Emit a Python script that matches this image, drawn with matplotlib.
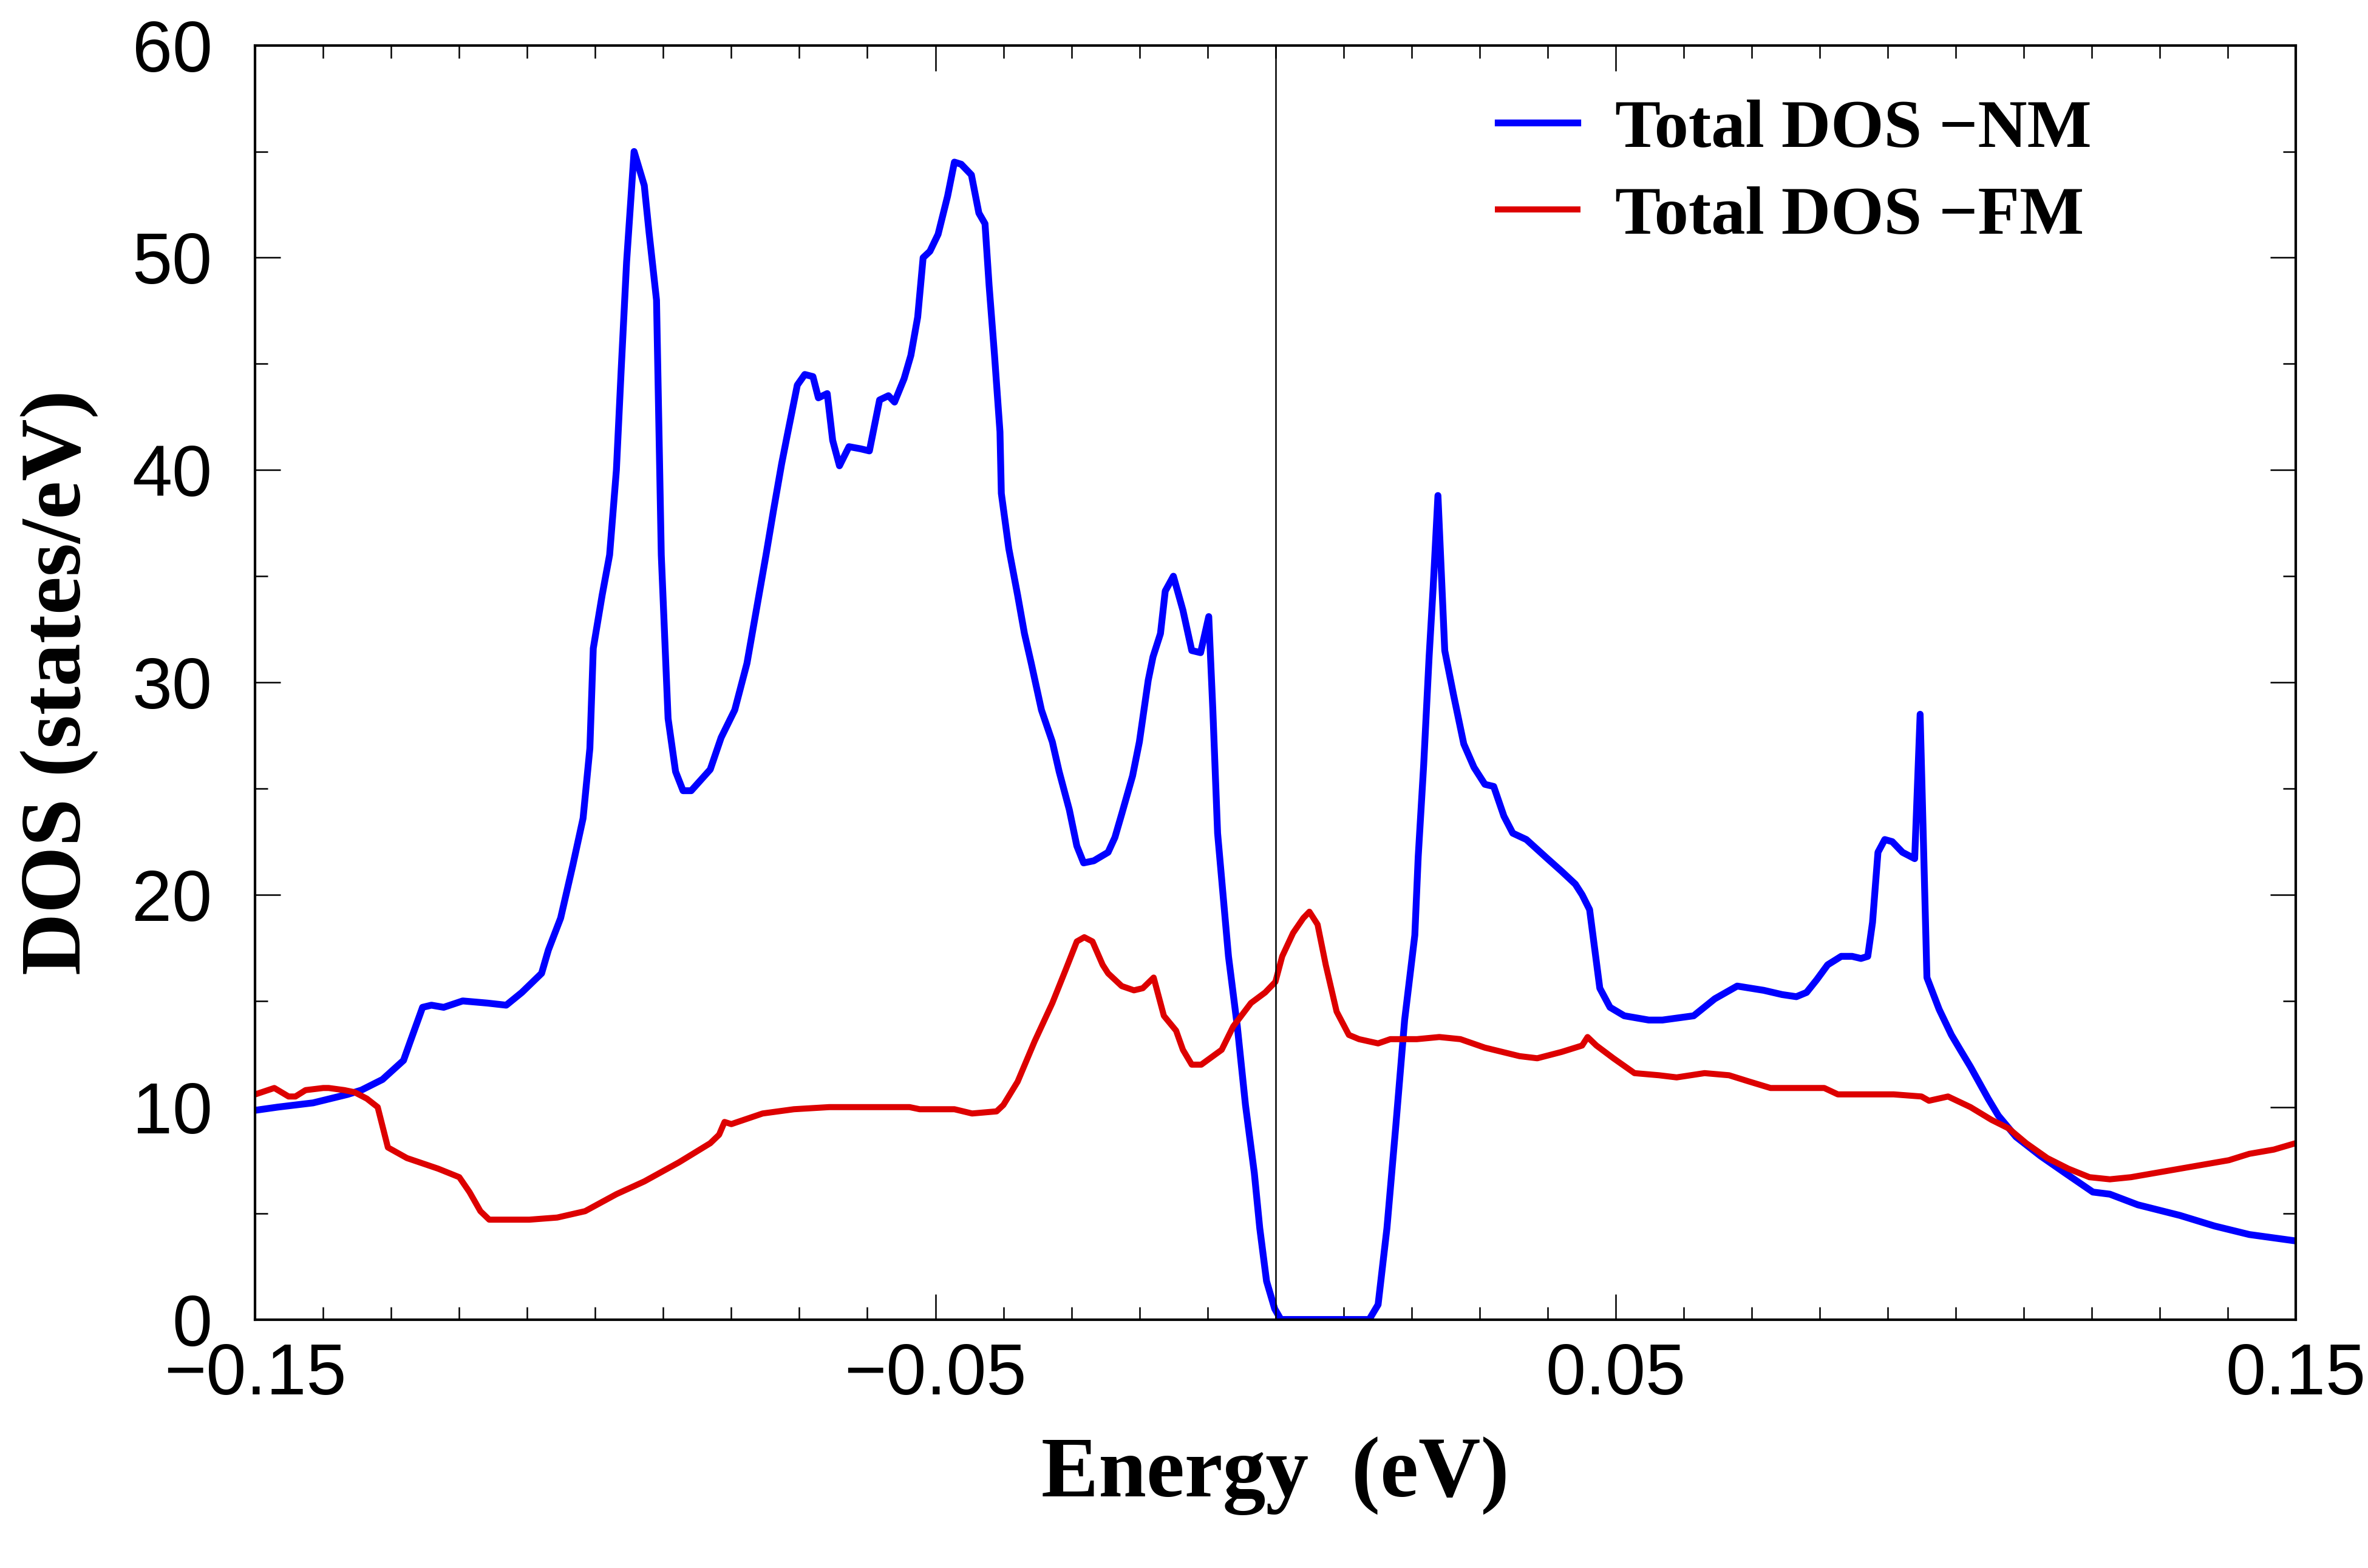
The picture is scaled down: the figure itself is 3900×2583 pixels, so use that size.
import numpy as np
import matplotlib
matplotlib.use('Agg')
import matplotlib.pyplot as plt
from matplotlib.ticker import FixedLocator, MultipleLocator

# total DOS, non-magnetic
e_nm = [-0.150, -0.1467, -0.1415, -0.1364, -0.1344, -0.1313, -0.1282, -0.1272, -0.1254, -0.1241,
        -0.1223, -0.1195, -0.1159, -0.1131, -0.1108, -0.1079, -0.1069, -0.1051, -0.1033, -0.1018,
        -0.1008, -0.1003, -0.0990, -0.0979, -0.0969, -0.0962, -0.0954, -0.0943, -0.0928, -0.0921,
        -0.0910, -0.0903, -0.0893, -0.0882, -0.0871, -0.0859, -0.0831, -0.0815, -0.0795, -0.0777,
        -0.0760, -0.0749, -0.0738, -0.0726, -0.0718, -0.0703, -0.0692, -0.0680, -0.0672, -0.0659,
        -0.0651, -0.0641, -0.0627, -0.0610, -0.0597, -0.0582, -0.0569, -0.0560, -0.0546, -0.0536,
        -0.0526, -0.0518, -0.0508, -0.0496, -0.0482, -0.0472, -0.0462, -0.0447, -0.0436, -0.0427,
        -0.0421, -0.0413, -0.0405, -0.0403, -0.0392, -0.0379, -0.0369, -0.0359, -0.0344, -0.0328,
        -0.0318, -0.0303, -0.0292, -0.0282, -0.0267, -0.0246, -0.0236, -0.0226, -0.0210, -0.0200,
        -0.0187, -0.0180, -0.0169, -0.0162, -0.0150, -0.0136, -0.0123, -0.0110, -0.0098, -0.0092,
        -0.0085, -0.0077, -0.0069, -0.0056, -0.0044, -0.0031, -0.0023, -0.0013, -0.0001, 0.0008,
        0.0138, 0.0151, 0.0164, 0.0177, 0.0190, 0.0205, 0.0210, 0.0218, 0.0226, 0.0232,
        0.0239, 0.0249, 0.0262, 0.0277, 0.0292, 0.0308, 0.0321, 0.0336, 0.0349, 0.0369,
        0.0400, 0.0421, 0.0441, 0.0451, 0.0462, 0.0477, 0.0492, 0.0513, 0.0549, 0.0569,
        0.0615, 0.0646, 0.0679, 0.0718, 0.0745, 0.0766, 0.0781, 0.0796, 0.0812, 0.0832,
        0.0848, 0.0861, 0.0871, 0.0878, 0.0886, 0.0896, 0.0907, 0.0922, 0.0940, 0.0948,
        0.0958, 0.0976, 0.0994, 0.1007, 0.1022, 0.1048, 0.1063, 0.1089, 0.1125, 0.1161,
        0.1202, 0.1227, 0.1268, 0.1330, 0.1381, 0.1432, 0.1500]
dos_nm = [9.85, 10.0, 10.2, 10.6, 10.8, 11.3, 12.2, 13.1, 14.7, 14.8,
          14.7, 15.0, 14.9, 14.8, 15.4, 16.3, 17.4, 18.9, 21.4, 23.6,
          26.9, 31.6, 34.1, 36.0, 40.0, 44.7, 49.8, 55.0, 53.4, 51.2,
          48.0, 36.0, 28.3, 25.8, 24.9, 24.9, 25.9, 27.4, 28.7, 30.9,
          34.0, 36.0, 38.1, 40.3, 41.6, 44.0, 44.5, 44.4, 43.4, 43.6,
          41.4, 40.2, 41.1, 41.0, 40.9, 43.3, 43.5, 43.2, 44.3, 45.4,
          47.2, 50.0, 50.3, 51.1, 52.9, 54.5, 54.4, 53.9, 52.1, 51.6,
          48.7, 45.4, 41.8, 38.9, 36.3, 34.1, 32.3, 30.9, 28.7, 27.2,
          25.8, 24.0, 22.3, 21.5, 21.6, 22.0, 22.7, 23.8, 25.6, 27.2,
          30.1, 31.2, 32.3, 34.3, 35.0, 33.4, 31.5, 31.4, 33.1, 28.7,
          22.9, 20.0, 17.1, 13.8, 10.1, 6.9, 4.3, 1.8, 0.5, 0.0,
          0.0, 0.7, 4.3, 9.1, 14.1, 18.1, 21.8, 26.1, 31.2, 34.5,
          38.8, 31.5, 29.4, 27.1, 26.0, 25.2, 25.1, 23.7, 22.9, 22.6,
          21.7, 21.1, 20.5, 20.0, 19.3, 15.6, 14.7, 14.3, 14.1, 14.1,
          14.3, 15.1, 15.7, 15.5, 15.3, 15.2, 15.4, 16.0, 16.7, 17.1,
          17.1, 17.0, 17.1, 18.7, 22.0, 22.6, 22.5, 22.0, 21.7, 28.5,
          16.1, 14.6, 13.4, 12.7, 11.9, 10.4, 9.6, 8.6, 7.7, 6.9,
          6.0, 5.9, 5.4, 4.9, 4.4, 4.0, 3.7]

# total DOS, ferromagnetic
e_fm = [-0.150, -0.1472, -0.1451, -0.1441, -0.1426, -0.1400, -0.1392, -0.1369, -0.1354, -0.1336,
        -0.1320, -0.1305, -0.1277, -0.1231, -0.1200, -0.1185, -0.1169, -0.1156, -0.1097, -0.1056,
        -0.1015, -0.0969, -0.0928, -0.0877, -0.0831, -0.0818, -0.0810, -0.0800, -0.0754, -0.0708,
        -0.0656, -0.0538, -0.0523, -0.0472, -0.0446, -0.0410, -0.0400, -0.0379, -0.0354, -0.0328,
        -0.0308, -0.0292, -0.0281, -0.0269, -0.0254, -0.0246, -0.0226, -0.0208, -0.0195, -0.0179,
        -0.0164, -0.0146, -0.0136, -0.0123, -0.0109, -0.0079, -0.0062, -0.0036, -0.0015, 0.0000,
        0.0010, 0.0026, 0.0041, 0.0050, 0.0062, 0.0074, 0.0090, 0.0108, 0.0123, 0.0151,
        0.0169, 0.0208, 0.0241, 0.0272, 0.0308, 0.0359, 0.0385, 0.0421, 0.0451, 0.0459,
        0.0472, 0.0497, 0.0528, 0.0564, 0.0590, 0.0631, 0.0667, 0.0697, 0.0728, 0.0807,
        0.0827, 0.0843, 0.0909, 0.0950, 0.0961, 0.0989, 0.1022, 0.1053, 0.1078, 0.1104,
        0.1135, 0.1166, 0.1197, 0.1227, 0.1258, 0.1294, 0.1330, 0.1366, 0.1402, 0.1432,
        0.1468, 0.1500]
dos_fm = [10.6, 10.9, 10.5, 10.5, 10.8, 10.9, 10.9, 10.8, 10.7, 10.4,
          10.0, 8.1, 7.6, 7.1, 6.7, 6.0, 5.1, 4.7, 4.7, 4.8,
          5.1, 5.9, 6.5, 7.4, 8.3, 8.7, 9.3, 9.2, 9.7, 9.9,
          10.0, 10.0, 9.9, 9.9, 9.7, 9.8, 10.1, 11.2, 13.1, 14.9,
          16.5, 17.8, 18.0, 17.8, 16.7, 16.3, 15.7, 15.5, 15.6, 16.1,
          14.3, 13.6, 12.7, 12.0, 12.0, 12.7, 13.8, 14.9, 15.4, 15.9,
          17.1, 18.2, 18.9, 19.2, 18.6, 16.7, 14.5, 13.4, 13.2, 13.0,
          13.2, 13.2, 13.3, 13.2, 12.8, 12.4, 12.3, 12.6, 12.9, 13.3,
          12.9, 12.3, 11.6, 11.5, 11.4, 11.6, 11.5, 11.2, 10.9, 10.9,
          10.6, 10.6, 10.6, 10.5, 10.3, 10.5, 10.0, 9.4, 9.0, 8.3,
          7.6, 7.1, 6.7, 6.6, 6.7, 6.9, 7.1, 7.3, 7.5, 7.8,
          8.0, 8.3]

x_major = [-0.15, -0.05, 0.05, 0.15]
x_labels = ['\u22120.15', '\u22120.05', '0.05', '0.15']
y_major = [0, 10, 20, 30, 40, 50, 60]

serif = ['Liberation Serif', 'DejaVu Serif']
sans = ['Liberation Sans', 'DejaVu Sans']

fig = plt.figure(figsize=(13, 8.61), dpi=300)
ax = fig.add_axes([0.1078, 0.1585, 0.8616, 0.8126])

ax.plot(e_nm, dos_nm, color='#0000ff', lw=2.7, label='Total DOS \u2212NM')
ax.plot(e_fm, dos_fm, color='#dd0000', lw=2.4, label='Total DOS \u2212FM')
ax.axvline(0, color='black', lw=0.6)

ax.set_xlim(-0.15, 0.15)
ax.set_ylim(0, 60)
ax.xaxis.set_major_locator(FixedLocator(x_major))
ax.xaxis.set_minor_locator(MultipleLocator(0.01))
ax.set_xticklabels(x_labels)
ax.yaxis.set_major_locator(FixedLocator(y_major))
ax.yaxis.set_minor_locator(MultipleLocator(5))

ax.tick_params(which='both', direction='in', top=True, right=True, width=0.6)
ax.tick_params(which='major', length=10)
ax.tick_params(which='minor', length=5)
ax.tick_params(axis='x', which='major', pad=9)
ax.tick_params(axis='y', which='major', pad=17)
for lab in ax.get_xticklabels() + ax.get_yticklabels():
    lab.set_fontfamily(sans)
    lab.set_fontsize(28.5)
for s in ax.spines.values():
    s.set_linewidth(1.0)

ax.set_xlabel('Energy  (eV)', fontfamily=serif, fontweight='bold', fontsize=34)
ax.set_ylabel('DOS (states/eV)', fontfamily=serif, fontweight='bold', fontsize=34)
ax.xaxis.set_label_coords(0.5, -0.092)
ax.yaxis.set_label_coords(-0.077, 0.5)

leg = ax.legend(loc='upper left', bbox_to_anchor=(0.609, 0.958), frameon=False,
                prop={'family': serif, 'weight': 'bold', 'size': 27},
                handlelength=1.17, handletextpad=0.55, labelspacing=0.36,
                borderpad=0, borderaxespad=0)

fig.savefig('out.png', dpi=300)
